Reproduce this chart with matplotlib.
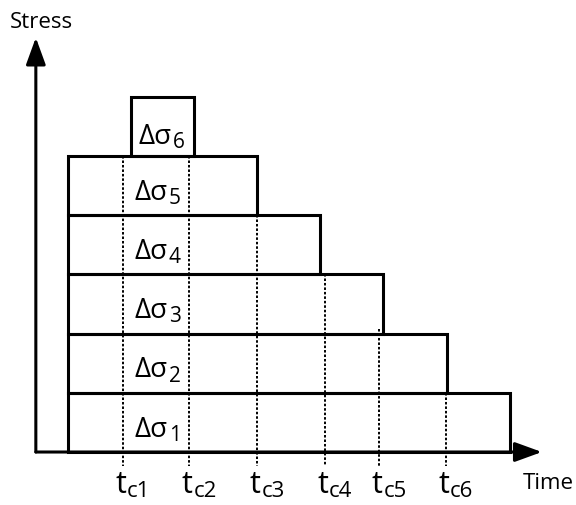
import matplotlib
matplotlib.use("Agg")
import matplotlib.pyplot as plt
from matplotlib.patches import Rectangle

plt.rcParams['font.family'] = ['Open Sans', 'DejaVu Sans']

# stress increments: start time, end time, stacking level
layer_start = [0, 0, 0, 0, 0, 1]
layer_end = [7, 6, 5, 4, 3, 2]
layer_level = [0, 1, 2, 3, 4, 5]
layer_subs = ['1', '2', '3', '4', '5', '6']
label_x = [1.06, 1.06, 1.06, 1.06, 1.06, 1.12]
label_raise = [0.26, 0.26, 0.26, 0.26, 0.26, 0.2]

# critical times and the height where each dotted marker starts
tc_times = [0.87, 1.92, 3.0, 4.07, 4.93, 5.99]
tc_tops = [5, 5, 4, 3, 2.08, 1]
tc_subs = ['c1', 'c2', 'c3', 'c4', 'c5', 'c6']

fig = plt.figure(figsize=(5.76, 5.05), dpi=100)
ax = fig.add_axes([0, 0, 1, 1])
ax.set_xlim(-1.078, 8.051)
ax.set_ylim(-0.895, 7.635)
ax.axis('off')


def label_with_sub(x, y, main, sub, size, sub_size, drop, ha='left'):
    # main text on the baseline, subscript glued to its right edge
    t = ax.text(x, y, main, fontsize=size, ha=ha, va='baseline')
    ax.annotate(sub, xy=(1, y), xycoords=(t, 'data'),
                xytext=(0.5, -drop), textcoords='offset points',
                fontsize=sub_size, ha='left', va='baseline')


# axes with arrow heads
arrow = dict(arrowstyle='-|>,head_length=0.55,head_width=0.2', lw=2.2,
             color='black', mutation_scale=30, shrinkA=0, shrinkB=0)
ax.annotate('', xy=(-0.51, 7.0), xytext=(-0.51, 0), arrowprops=arrow)
ax.annotate('', xy=(7.51, 0), xytext=(-0.51, 0), arrowprops=arrow)
ax.text(-0.42, 7.16, 'Stress', fontsize=16, ha='center', va='baseline')
ax.text(7.21, -0.625, 'Time', fontsize=16, ha='left', va='baseline')

for x0, x1, lvl, sub, lx, ly in zip(layer_start, layer_end, layer_level,
                                    layer_subs, label_x, label_raise):
    ax.add_patch(Rectangle((x0, lvl), x1 - x0, 1, fill=False,
                           edgecolor='black', lw=2.2, zorder=3))
    label_with_sub(lx, lvl + ly, 'Δσ', sub, 20, 15, 3)

for t, top, sub in zip(tc_times, tc_tops, tc_subs):
    ax.plot([t, t], [top, -0.24], color='black', lw=1.4,
            linestyle=(0, (1.3, 1.0)), zorder=2)
    label_with_sub(t - 0.03, -0.70, 't', sub, 22, 16, 2.5, ha='center')

fig.savefig('out.png', dpi=100)
